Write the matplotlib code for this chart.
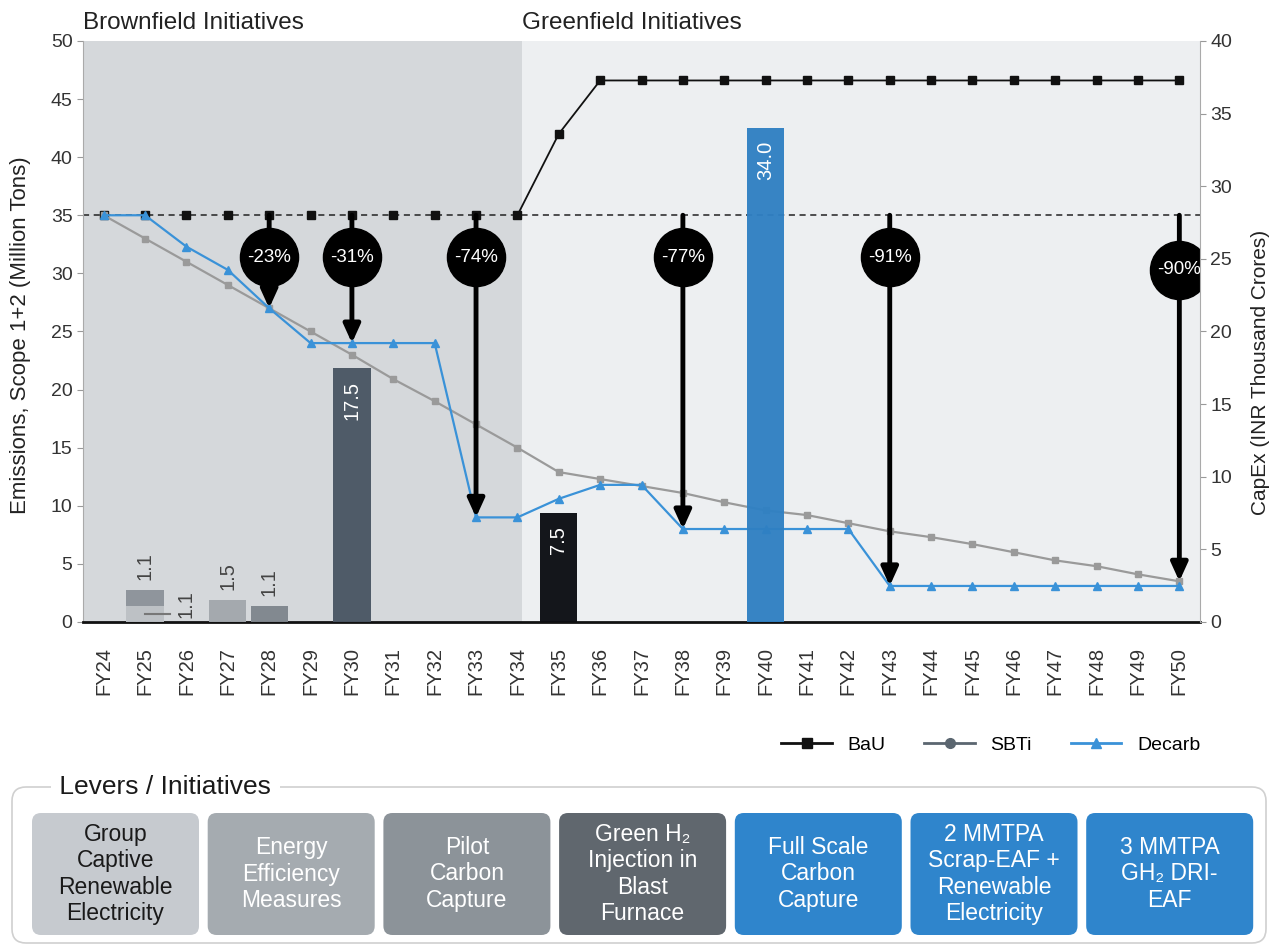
import numpy as np
import matplotlib
matplotlib.use('Agg')
import matplotlib.pyplot as plt
from matplotlib.lines import Line2D
from matplotlib.patches import FancyBboxPatch

plt.rcParams['font.family'] = ['Liberation Sans', 'DejaVu Sans']

# emissions, million tons (left axis)
years = ['FY%d' % y for y in range(24, 51)]
bau = [35.0] * 11 + [42.0] + [46.6] * 15
sbti = [35.0, 33.0, 31.0, 29.0, 27.0, 25.0, 23.0, 20.9, 19.0, 17.0, 15.0,
        12.9, 12.3, 11.7, 11.1, 10.3, 9.6, 9.2, 8.5, 7.8,
        7.3, 6.7, 6.0, 5.3, 4.8, 4.1, 3.5]
decarb = [35.0, 35.0, 32.3, 30.3, 27.0, 24.0, 24.0, 24.0, 24.0, 9.0, 9.0,
          10.6, 11.8, 11.8, 8.0, 8.0, 8.0, 8.0, 8.0, 3.1,
          3.1, 3.1, 3.1, 3.1, 3.1, 3.1, 3.1]

# capex, INR thousand crores (right axis), stacked where a year repeats
capex_year = ['FY25', 'FY25', 'FY27', 'FY28', 'FY30', 'FY35', 'FY40']
capex_value = [1.1, 1.1, 1.5, 1.1, 17.5, 7.5, 34.0]
capex_color = ['#bcc0c5', '#8c939a', '#a2a7ac', '#7f868d', '#4a5663', '#0b0d12', '#2f80c3']

# reduction call-outs vs. the FY24 baseline
callout_year = ['FY28', 'FY30', 'FY33', 'FY38', 'FY43', 'FY50']
callout_series = ['decarb', 'decarb', 'decarb', 'decarb', 'decarb', 'sbti']
callout_badge_y = [31.4, 31.4, 31.4, 31.4, 31.4, 30.3]

levers = ['Group\nCaptive\nRenewable\nElectricity',
          'Energy\nEfficiency\nMeasures',
          'Pilot\nCarbon\nCapture',
          'Green H\u2082\nInjection in\nBlast\nFurnace',
          'Full Scale\nCarbon\nCapture',
          '2 MMTPA\nScrap-EAF +\nRenewable\nElectricity',
          '3 MMTPA\nGH\u2082 DRI-\nEAF']
lever_color = ['#c6cacf', '#a5abb0', '#8c9399', '#60676e', '#2f85cc', '#2f85cc', '#2f85cc']
lever_text = ['#1a1a1a', 'white', 'white', 'white', 'white', 'white', 'white']

series = {'bau': bau, 'sbti': sbti, 'decarb': decarb}
x = np.arange(len(years))
pos = {y: i for i, y in enumerate(years)}

fig = plt.figure(figsize=(12.75, 9.48), dpi=100)
ax = fig.add_axes([0.0651, 0.3439, 0.8761, 0.6129])
ax.set_facecolor('#edeff1')
ax.axvspan(-0.5, 10.1, color='#d5d8db', zorder=0, lw=0)

ax.axhline(bau[0], color='#222222', lw=1.1, ls=(0, (4, 3)), zorder=2)
ax.plot(x[10:], bau[10:], color='#111111', lw=1.3, zorder=3)
ax.plot(x, bau, ls='none', marker='s', ms=5.5, color='#111111', zorder=3)
ax.plot(x, sbti, color='#9a9a9a', lw=1.6, marker='s', ms=5, zorder=3)
ax.plot(x, decarb, color='#3a92d8', lw=1.6, marker='^', ms=6, zorder=3)

for yr, s, by in zip(callout_year, callout_series, callout_badge_y):
    i = pos[yr]
    v = series[s][i]
    ax.annotate('', xy=(i, v), xytext=(i, bau[0]),
                arrowprops=dict(arrowstyle='-|>,head_width=0.5,head_length=1.1',
                                lw=3.5, color='black', shrinkA=0, shrinkB=0),
                zorder=5)
    ax.scatter([i], [by], s=1750, color='black', zorder=6)
    pct = round((v / bau[0] - 1) * 100)
    ax.text(i, by, '%d%%' % pct, color='white', ha='center', va='center',
            fontsize=13.5, zorder=7)

ax.set_xlim(-0.5, len(years) - 0.5)
ax.set_ylim(0, 50)
ax.set_yticks(range(0, 51, 5))
ax.set_xticks(x)
ax.set_xticklabels(years, rotation=90, fontsize=14.5, color='#333333')
ax.tick_params(axis='x', length=0, pad=18)
ax.tick_params(axis='y', length=4, color='#999999', labelsize=14, labelcolor='#333333')
ax.spines['top'].set_visible(False)
ax.spines['right'].set_visible(False)
ax.spines['left'].set_color('#aaaaaa')
ax.spines['bottom'].set_color('#111111')
ax.spines['bottom'].set_linewidth(2)
ax.set_ylabel('Emissions, Scope 1+2 (Million Tons)', fontsize=16, color='#222222')
ax.yaxis.set_label_coords(-0.047, 0.494)

ax.text(-0.5, 1.012, 'Brownfield Initiatives', transform=ax.get_xaxis_transform(),
        fontsize=17.5, color='#222222', va='bottom')
ax.text(10.1, 1.012, 'Greenfield Initiatives', transform=ax.get_xaxis_transform(),
        fontsize=17.5, color='#222222', va='bottom')

# capex bars on the twin axis
ax2 = ax.twinx()
ax2.set_ylim(0, 40)
ax2.set_yticks(range(0, 41, 5))
ax2.tick_params(axis='y', length=4, color='#999999', labelsize=14, labelcolor='#333333')
for k in ['top', 'left', 'bottom']:
    ax2.spines[k].set_visible(False)
ax2.spines['right'].set_color('#aaaaaa')
ax2.set_ylabel('CapEx (INR Thousand Crores)', fontsize=15, color='#222222')
ax2.yaxis.set_label_coords(1.046, 0.43)

stack = {}
for n, (yr, val, col) in enumerate(zip(capex_year, capex_value, capex_color)):
    i = pos[yr]
    b = stack.get(i, 0.0)
    ax2.bar(i, val, bottom=b, width=0.9, color=col, alpha=0.96, zorder=2)
    top = b + val
    stack[i] = top
    if val > 5:
        ax2.text(i, top - 0.9, '%.1f' % val, rotation=90, ha='center', va='top',
                 color='white', fontsize=14.5)
    elif b == 0 and capex_year.count(yr) > 1:
        # lower segment of a stack gets its label beside the bar
        ax2.plot([i, i + 0.6], [val * 0.5, val * 0.5], color='#777777', lw=1.5, zorder=3)
        ax2.text(i + 1, 0.25, '%.1f' % val, rotation=90, ha='center', va='bottom',
                 color='#444444', fontsize=14.5)
    else:
        ax2.text(i, top + 0.7, '%.1f' % val, rotation=90, ha='center', va='bottom',
                 color='#444444', fontsize=14.5)

handles = [Line2D([], [], color='#111111', marker='s', ms=7, lw=2),
           Line2D([], [], color='#5b6670', marker='o', ms=7, lw=2),
           Line2D([], [], color='#3a92d8', marker='^', ms=7, lw=2)]
fig.legend(handles, ['BaU', 'SBTi', 'Decarb'], loc='center right', ncol=3,
           bbox_to_anchor=(0.955, 0.214), frameon=False, fontsize=14,
           handlelength=2.6, columnspacing=2.0)

# levers panel, drawn in pixel space
pa = fig.add_axes([0, 0, 1, 1])
pa.set_xlim(0, 1275)
pa.set_ylim(948, 0)
pa.axis('off')
pa.add_patch(FancyBboxPatch((12, 787), 1254, 156, boxstyle='round,pad=0,rounding_size=14',
                            fc='white', ec='#d0d0d0', lw=1.2))
pa.text(52, 787, ' Levers / Initiatives ', fontsize=19, color='#1a1a1a', va='center',
        ha='left', bbox=dict(fc='white', ec='none', pad=1))
for k, (lab, fc, tc) in enumerate(zip(levers, lever_color, lever_text)):
    x0 = 32 + k * 175.7
    pa.add_patch(FancyBboxPatch((x0, 813), 167, 122, boxstyle='round,pad=0,rounding_size=9',
                                fc=fc, ec='none'))
    pa.text(x0 + 83.5, 874, lab, ha='center', va='center', color=tc, fontsize=16.5,
            linespacing=1.18)

fig.savefig('out.png', dpi=100)
